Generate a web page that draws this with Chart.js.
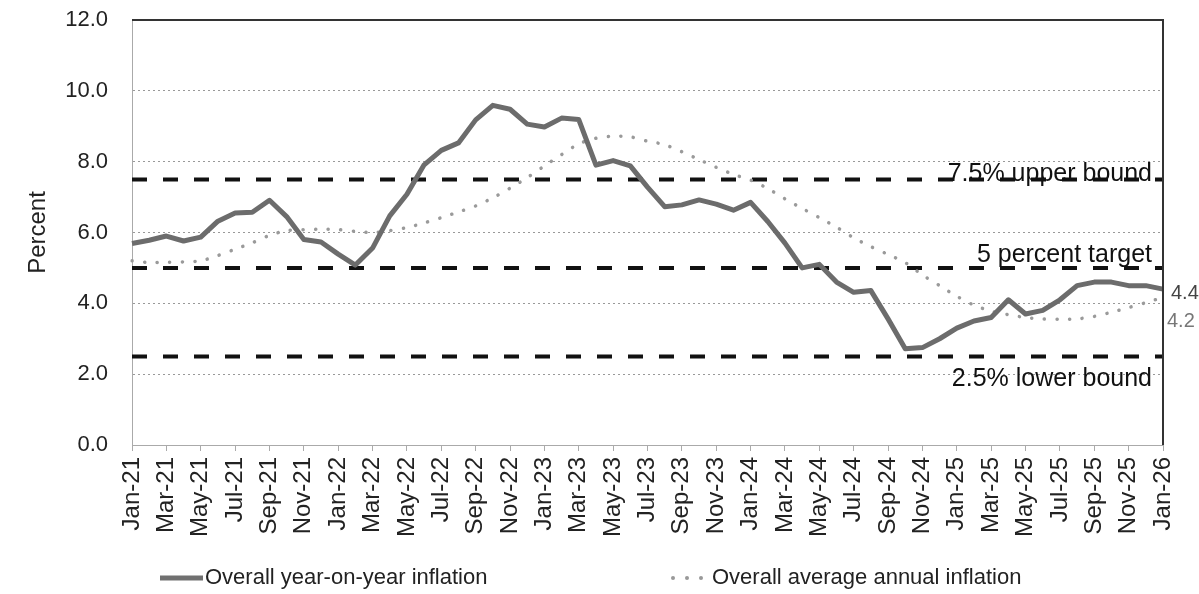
<!DOCTYPE html>
<html>
<head>
<meta charset="utf-8">
<script src="https://cdn.jsdelivr.net/npm/chart.js@4.4.1/dist/chart.umd.min.js"></script>
<style>
  html, body { margin: 0; padding: 0; background: #fff; }
  #wrap { width: 1199px; height: 594px; position: relative; }
</style>
</head>
<body>
<div id="wrap"><canvas id="chart"></canvas></div>
<script>
// months Jan-21 .. Jan-26
const monthNames = ['Jan', 'Feb', 'Mar', 'Apr', 'May', 'Jun', 'Jul', 'Aug', 'Sep', 'Oct', 'Nov', 'Dec'];
const years = ['21', '22', '23', '24', '25'];
const months = [];
years.forEach(y => monthNames.forEach(m => months.push(m + '-' + y)));
months.push('Jan-26');

// overall year-on-year inflation, percent
const yoyInflation = [
  5.69, 5.78, 5.90, 5.76, 5.87, 6.32, 6.55, 6.57, 6.91, 6.45, 5.80, 5.73,
  5.39, 5.08, 5.56, 6.47, 7.08, 7.91, 8.32, 8.53, 9.18, 9.59, 9.48, 9.06,
  8.98, 9.23, 9.19, 7.90, 8.03, 7.88, 7.28, 6.73, 6.78, 6.92, 6.80, 6.63,
  6.85, 6.31, 5.70, 5.00, 5.10, 4.60, 4.31, 4.36, 3.56, 2.72, 2.75, 3.00,
  3.30, 3.50, 3.60, 4.10, 3.70, 3.80, 4.10, 4.50, 4.60, 4.60, 4.50, 4.50,
  4.40
];

// overall average annual inflation, percent
const avgInflation = [
  5.20, 5.15, 5.16, 5.17, 5.20, 5.35, 5.53, 5.71, 5.92, 6.05, 6.08, 6.09,
  6.08, 6.03, 6.00, 6.05, 6.14, 6.27, 6.42, 6.58, 6.75, 6.98, 7.25, 7.55,
  7.88, 8.20, 8.50, 8.66, 8.72, 8.70, 8.58, 8.48, 8.28, 8.06, 7.84, 7.64,
  7.48, 7.24, 6.95, 6.68, 6.42, 6.15, 5.85, 5.60, 5.38, 5.15, 4.80, 4.50,
  4.20, 3.95, 3.78, 3.68, 3.60, 3.56, 3.55, 3.56, 3.63, 3.75, 3.88, 4.02,
  4.17
];

// policy band
const boundValues = [7.5, 5, 2.5];
const boundLabels = ['7.5% upper bound', '5 percent target', '2.5% lower bound'];
const yTicks = [0, 2, 4, 6, 8, 10, 12];

const FONT = '"Liberation Sans", Arial, sans-serif';

const boundSets = boundValues.map((v, i) => ({
  label: boundLabels[i],
  data: months.map(() => v),
  borderColor: '#111',
  borderWidth: 4,
  borderDash: [15, 16],
  pointRadius: 0,
  fill: false
}));

// text, legend and frame drawn on top of the chart
const extras = {
  id: 'extras',
  afterDraw(chart) {
    const ctx = chart.ctx;
    const area = chart.chartArea;
    const y = chart.scales.y;
    ctx.save();

    // top and right frame
    ctx.strokeStyle = '#333';
    ctx.lineWidth = 2;
    ctx.beginPath();
    ctx.moveTo(area.left, area.top);
    ctx.lineTo(area.right, area.top);
    ctx.lineTo(area.right, area.bottom);
    ctx.stroke();

    // band labels
    ctx.fillStyle = '#111';
    ctx.font = '25px ' + FONT;
    ctx.textAlign = 'right';
    ctx.textBaseline = 'alphabetic';
    const shift = [2, -6, 30];
    boundValues.forEach((v, i) => {
      ctx.fillText(boundLabels[i], area.right - 11, y.getPixelForValue(v) + shift[i]);
    });

    // end values
    const last = months.length - 1;
    ctx.textAlign = 'left';
    ctx.textBaseline = 'middle';
    ctx.font = '20px ' + FONT;
    ctx.fillStyle = '#444';
    ctx.fillText(yoyInflation[last].toFixed(1), area.right + 8, y.getPixelForValue(yoyInflation[last]) + 4);
    ctx.fillStyle = '#777';
    ctx.fillText(avgInflation[last].toFixed(1), area.right + 4, y.getPixelForValue(avgInflation[last]) + 24);

    // legend
    const ly = 578;
    ctx.font = '22px ' + FONT;
    ctx.strokeStyle = '#707070';
    ctx.lineWidth = 5;
    ctx.beginPath();
    ctx.moveTo(160, ly);
    ctx.lineTo(203, ly);
    ctx.stroke();
    ctx.fillStyle = '#222';
    ctx.fillText('Overall year-on-year inflation', 205, ly);

    ctx.fillStyle = '#999';
    [673, 687, 701].forEach(px => {
      ctx.beginPath();
      ctx.arc(px, ly, 2, 0, Math.PI * 2);
      ctx.fill();
    });
    ctx.fillStyle = '#222';
    ctx.fillText('Overall average annual inflation', 712, ly);

    ctx.restore();
  }
};

new Chart(document.getElementById('chart'), {
  type: 'line',
  data: {
    labels: months,
    datasets: [
      {
        label: 'Overall year-on-year inflation',
        data: yoyInflation,
        borderColor: '#6c6c6c',
        borderWidth: 5,
        pointRadius: 0,
        tension: 0,
        borderJoinStyle: 'round'
      },
      {
        label: 'Overall average annual inflation',
        data: avgInflation,
        borderColor: '#9a9a9a',
        borderWidth: 3.5,
        borderDash: [0.1, 12.5],
        borderCapStyle: 'round',
        pointRadius: 0,
        tension: 0.3
      },
      ...boundSets
    ]
  },
  options: {
    responsive: true,
    maintainAspectRatio: false,
    animation: false,
    layout: { padding: { left: 0, right: 36, top: 20, bottom: 0 } },
    plugins: {
      legend: { display: false },
      tooltip: { enabled: false }
    },
    scales: {
      x: {
        offset: false,
        afterFit: scale => { scale.height = 149; },
        grid: {
          drawOnChartArea: false,
          drawTicks: true,
          tickLength: 6,
          tickColor: ctx => (ctx.index % 2 ? 'rgba(0,0,0,0)' : '#aaa')
        },
        border: { color: '#aaa', width: 1 },
        ticks: {
          autoSkip: false,
          minRotation: 90,
          maxRotation: 90,
          padding: 6,
          color: '#222',
          font: { family: FONT, size: 24 },
          callback: function(val, i) { return i % 2 ? '' : months[i]; }
        }
      },
      y: {
        min: 0,
        max: 12,
        afterFit: scale => { scale.width = 132; },
        afterBuildTicks: scale => { scale.ticks = yTicks.map(v => ({ value: v })); },
        grid: { color: '#999', lineWidth: 1, drawTicks: true, tickLength: 24, tickColor: 'rgba(0,0,0,0)' },
        border: { color: '#aaa', width: 1, dash: [2, 3] },
        ticks: {
          padding: 0,
          color: '#222',
          font: { family: FONT, size: 22 },
          callback: v => v.toFixed(1)
        },
        title: {
          display: true,
          text: 'Percent',
          color: '#222',
          padding: { top: 24, bottom: 0 },
          font: { family: FONT, size: 24 }
        }
      }
    }
  },
  plugins: [extras]
});
</script>
</body>
</html>
